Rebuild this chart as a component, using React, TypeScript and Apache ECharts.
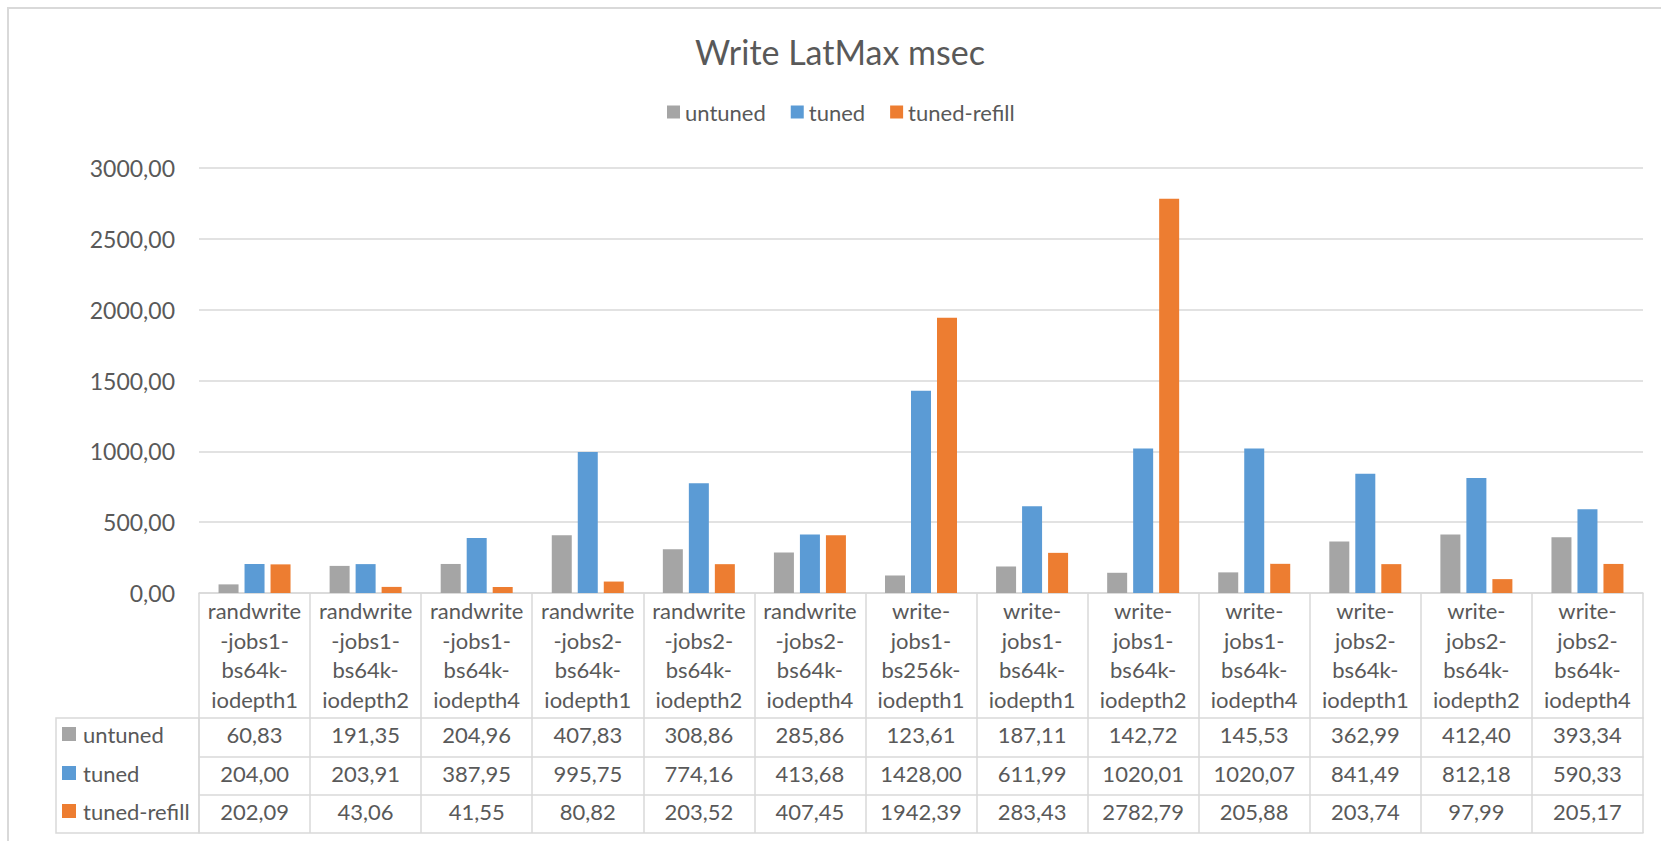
import React, { useEffect, useRef } from 'react';
import * as echarts from 'echarts';

// Test cases (x axis / data-table columns)
const categories = [
  'randwrite-jobs1-bs64k-iodepth1',
  'randwrite-jobs1-bs64k-iodepth2',
  'randwrite-jobs1-bs64k-iodepth4',
  'randwrite-jobs2-bs64k-iodepth1',
  'randwrite-jobs2-bs64k-iodepth2',
  'randwrite-jobs2-bs64k-iodepth4',
  'write-jobs1-bs256k-iodepth1',
  'write-jobs1-bs64k-iodepth1',
  'write-jobs1-bs64k-iodepth2',
  'write-jobs1-bs64k-iodepth4',
  'write-jobs2-bs64k-iodepth1',
  'write-jobs2-bs64k-iodepth2',
  'write-jobs2-bs64k-iodepth4',
];

// Max write latency, msec
const untuned = [60.83, 191.35, 204.96, 407.83, 308.86, 285.86, 123.61, 187.11, 142.72, 145.53, 362.99, 412.4, 393.34];
const tuned = [204.0, 203.91, 387.95, 995.75, 774.16, 413.68, 1428.0, 611.99, 1020.01, 1020.07, 841.49, 812.18, 590.33];
const tunedRefill = [202.09, 43.06, 41.55, 80.82, 203.52, 407.45, 1942.39, 283.43, 2782.79, 205.88, 203.74, 97.99, 205.17];

const seriesNames = ['untuned', 'tuned', 'tuned-refill'];
const seriesColors = ['#a5a5a5', '#5b9bd5', '#ed7d31'];
const seriesValues = [untuned, tuned, tunedRefill];

const yMin = 0;
const yMax = 3000;
const yInterval = 500;

const FONT = 'Lato';
const TEXT = '#595959';
const LINE = '#d9d9d9';

// decimal comma, two places
const fmt = (v: number) => v.toFixed(2).replace('.', ',');

// wrap a test name at its hyphens, the way a narrow table cell does
const wrapName = (name: string) => {
  const parts = name.split('-');
  const lines: string[] = [];
  let carry = '';
  parts.forEach((p, i) => {
    const last = i === parts.length - 1;
    const word = carry + p + (last ? '' : '-');
    if (!last && word.length > 9) {
      lines.push(carry + p);
      carry = '-';
    } else {
      lines.push(word);
      carry = '';
    }
  });
  return lines.join('\n');
};

export default function App() {
  const ref = useRef<HTMLDivElement>(null);

  useEffect(() => {
    if (!ref.current) return;
    const chart = echarts.init(ref.current, undefined, { renderer: 'svg' });

    const gridTop = 168;
    const gridBottomPx = 593;
    const H = 841;
    const headerH = 125;
    const rowH = [39, 38, 38];
    const cellFont = 22;

    const rowOffsets = [headerH, headerH + rowH[0], headerH + rowH[0] + rowH[1]];
    const tableBottomOffset = rowOffsets[2] + rowH[2];

    const valueAxes = seriesValues.map((vals, i) => ({
      type: 'category',
      gridIndex: 0,
      position: 'bottom',
      offset: rowOffsets[i],
      data: categories,
      axisLine: { show: true, lineStyle: { color: LINE, width: 1.5 } },
      axisTick: { show: true, interval: 0, length: rowH[i], lineStyle: { color: LINE, width: 1.5 } },
      axisLabel: {
        interval: 0,
        margin: 5,
        fontFamily: FONT,
        fontSize: cellFont,
        lineHeight: 22,
        color: TEXT,
        formatter: (_v: string, idx: number) => fmt(vals[idx]),
      },
      splitLine: { show: false },
    }));

    const legendRowY = [gridBottomPx + rowOffsets[0], gridBottomPx + rowOffsets[1], gridBottomPx + rowOffsets[2]];

    const graphic: any[] = [
      {
        type: 'rect',
        silent: true,
        shape: { x: 8, y: 8, width: 1700, height: 900 },
        style: { fill: 'none', stroke: LINE, lineWidth: 2 },
      },
      {
        type: 'rect',
        silent: true,
        shape: { x: 56, y: legendRowY[0], width: 199 - 56, height: tableBottomOffset - rowOffsets[0] },
        style: { fill: 'none', stroke: LINE, lineWidth: 1.5 },
      },
    ];
    seriesNames.forEach((name, i) => {
      const cy = legendRowY[i] + 16;
      graphic.push({
        type: 'rect',
        silent: true,
        shape: { x: 62, y: cy - 7, width: 14, height: 14 },
        style: { fill: seriesColors[i] },
      });
      graphic.push({
        type: 'text',
        silent: true,
        x: 83,
        y: cy,
        style: {
          text: name,
          fontFamily: FONT,
          fontSize: cellFont,
          fill: TEXT,
          verticalAlign: 'middle',
          align: 'left',
        },
      });
    });

    chart.setOption({
      animation: false,
      backgroundColor: '#ffffff',
      title: {
        text: 'Write LatMax msec',
        left: 840,
        textAlign: 'center',
        top: 32,
        padding: 0,
        textStyle: { fontFamily: FONT, fontSize: 34, lineHeight: 38, fontWeight: 'normal', color: TEXT },
      },
      legend: {
        data: seriesNames,
        top: 101,
        left: 667,
        padding: 0,
        icon: 'rect',
        itemWidth: 13,
        itemHeight: 13,
        itemGap: 25,
        textStyle: { fontFamily: FONT, fontSize: 22, lineHeight: 22, color: TEXT },
      },
      grid: { left: 199, right: 1661 - 1643, top: gridTop, bottom: H - gridBottomPx, containLabel: false },
      xAxis: [
        {
          type: 'category',
          data: categories,
          position: 'bottom',
          axisLine: { show: true, lineStyle: { color: LINE, width: 1.5 } },
          axisTick: { show: true, interval: 0, length: headerH, lineStyle: { color: LINE, width: 1.5 } },
          axisLabel: {
            interval: 0,
            margin: 3,
            fontFamily: FONT,
            fontSize: cellFont,
            lineHeight: 29.5,
            color: TEXT,
            formatter: (v: string) => wrapName(v),
          },
        },
        ...valueAxes,
        {
          type: 'category',
          data: categories,
          position: 'bottom',
          offset: tableBottomOffset,
          axisLine: { show: true, lineStyle: { color: LINE, width: 1.5 } },
          axisTick: { show: false },
          axisLabel: { show: false },
        },
      ],
      yAxis: {
        type: 'value',
        min: yMin,
        max: yMax,
        interval: yInterval,
        axisLine: { show: false },
        axisTick: { show: false },
        axisLabel: {
          margin: 24,
          fontFamily: FONT,
          fontSize: 23,
          color: TEXT,
          formatter: (v: number) => fmt(v),
        },
        splitLine: { lineStyle: { color: LINE, width: 1.5 } },
      },
      graphic,
      series: seriesNames.map((name, i) => ({
        name,
        type: 'bar',
        xAxisIndex: 0,
        data: seriesValues[i],
        barWidth: 20,
        barGap: '30%',
        itemStyle: { color: seriesColors[i] },
      })),
    });

    return () => chart.dispose();
  }, []);

  return (
    <div
      ref={ref}
      style={{ position: 'fixed', left: 0, top: 0, width: 1661, height: 841, background: '#ffffff' }}
    />
  );
}
